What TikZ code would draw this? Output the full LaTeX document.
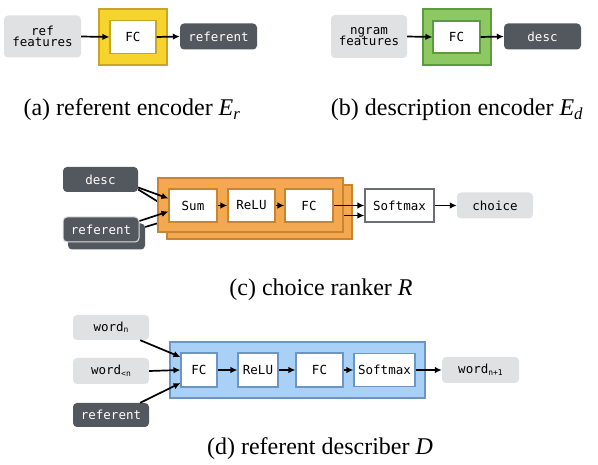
\documentclass[tikz,border=0pt]{standalone}
\usepackage{fontspec}
\setmainfont{Liberation Serif}
\setmonofont{DejaVu Sans Mono}
\usetikzlibrary{arrows.meta}

\definecolor{lightbox}{HTML}{E0E1E3}
\definecolor{darkbox}{HTML}{53575E}
\definecolor{yellowfill}{HTML}{F6D32D}
\definecolor{yellowline}{HTML}{C9A526}
\definecolor{greenfill}{HTML}{8DC862}
\definecolor{greenline}{HTML}{5C9A3E}
\definecolor{orangefill}{HTML}{F4A951}
\definecolor{orangeline}{HTML}{C98431}
\definecolor{bluefill}{HTML}{A9D1F7}
\definecolor{blueline}{HTML}{6C95C4}
\definecolor{greyline}{HTML}{6B6E73}

\newcommand{\lowsub}[1]{\raisebox{-1.5pt}{\fontsize{8}{8}\selectfont #1}}

\tikzset{
  boxfont/.style={font=\ttfamily\fontsize{12.5}{13}\selectfont},
  inbox/.style={boxfont, rounded corners=4pt, fill=lightbox, inner sep=0pt, align=center},
  outbox/.style={boxfont, rounded corners=4pt, fill=darkbox, text=white, inner sep=0pt},
  layer/.style={boxfont, draw, fill=white, line width=1.1pt, inner sep=0pt},
  frame/.style={draw, line width=1.3pt, inner sep=0pt},
  caption/.style={font=\fontsize{24}{26}\selectfont},
  flow/.style={-{Latex[length=7pt,width=6.5pt]}, line width=1.7pt},
}

\begin{document}
\begin{tikzpicture}[x=1pt, y=-1pt]
  \useasboundingbox (0,0) rectangle (598,465);

  % (a)
  \node[inbox, minimum width=77pt, minimum height=42pt] (reffeat) at (42.5,36.5) {ref\\[-2pt]features};
  \node[frame, draw=yellowline, fill=yellowfill, minimum width=68pt, minimum height=56pt] (yellow) at (133,37) {};
  \node[layer, draw=yellowline, minimum width=46pt, minimum height=33pt] (fcA) at (133,37) {FC};
  \node[outbox, minimum width=77pt, minimum height=26pt] (refA) at (218.5,36.5) {referent};
  \draw[flow] (reffeat.east) -- (fcA.west);
  \draw[flow] (fcA.east) -- (refA.west);
  \node[caption] (capA) at (132,110) {(a) referent encoder {\itshape E}\textsubscript{\itshape r}};

  % (b)
  \node[inbox, minimum width=76pt, minimum height=43pt] (ngram) at (369,36.5) {ngram\\[-2pt]features};
  \node[frame, draw=greenline, fill=greenfill, minimum width=68pt, minimum height=56pt] (green) at (457,37) {};
  \node[layer, draw=greenline, minimum width=47pt, minimum height=32pt] (fcB) at (456.5,37) {FC};
  \node[outbox, minimum width=77pt, minimum height=26pt] (descB) at (542.5,36.5) {desc};
  \draw[flow] (ngram.east) -- (fcB.west);
  \draw[flow] (fcB.east) -- (descB.west);
  \node[caption] (capB) at (457,110) {(b) description encoder {\itshape E}\textsubscript{\itshape d}};

  % (c)
  \node[outbox, minimum width=75pt, minimum height=25pt] (descC) at (100.5,179.5) {desc};
  \node[outbox, minimum width=77pt, minimum height=26pt] (refCback) at (106.5,236.5) {};
  \node[outbox, draw=lightbox, line width=1pt, minimum width=76pt, minimum height=25pt] (refC) at (101,229.5) {referent};
  \node[frame, draw=orangeline, fill=orangefill, minimum width=185pt, minimum height=54pt] (orangeback) at (259.5,212) {};
  \coordinate (sumbk) at (178,214);
  \coordinate (sumbklow) at (178,217);
  \coordinate (fcbk) at (344,215.5);
  \draw[line width=1.7pt] ([yshift=-10pt]descC.east) -- (sumbk);
  \draw[line width=1.7pt] ([yshift=9.5pt]refCback.east) -- (sumbklow);
  \node[frame, draw=orangeline, fill=orangefill, minimum width=185pt, minimum height=54pt] (orange) at (250.5,205) {};
  \node[layer, draw=orangeline, minimum width=48pt, minimum height=33pt] (sum) at (193,205.5) {Sum};
  \node[layer, draw=orangeline, minimum width=47pt, minimum height=33pt] (relu) at (251.5,205.5) {ReLU};
  \node[layer, draw=orangeline, minimum width=48pt, minimum height=33pt] (fcC) at (309,205.5) {FC};
  \node[layer, draw=greyline, minimum width=69pt, minimum height=33pt] (softmaxC) at (399.5,205.5) {Softmax};
  \node[inbox, minimum width=76pt, minimum height=26pt] (choice) at (495,205.5) {choice};
  \draw[flow] ([yshift=-8pt]descC.east) -- ([yshift=7pt]sum.west);
  \draw[flow] ([yshift=8.5pt]refC.east) -- ([yshift=-6pt]sum.west);
  \draw[flow] (sum) -- (relu);
  \draw[flow] (relu) -- (fcC);
  \draw[flow] (fcC) -- (softmaxC);
  \draw[flow] (fcbk) -- ([yshift=-10pt]softmaxC.west);
  \draw[flow] (softmaxC) -- (choice);
  \node[caption] (capC) at (321,290) {(c) choice ranker {\itshape R}};

  % (d)
  \node[inbox, minimum width=76pt, minimum height=25pt] (wordn) at (111,327.5) {word\lowsub{n}};
  \node[inbox, minimum width=76pt, minimum height=26pt] (wordlt) at (111,371) {word\lowsub{<n}};
  \node[outbox, minimum width=76pt, minimum height=24pt] (refD) at (111,415) {referent};
  \node[frame, draw=blueline, fill=bluefill, minimum width=255pt, minimum height=56pt] (blue) at (297.5,370) {};
  \node[layer, draw=blueline, minimum width=36pt, minimum height=34pt] (fcone) at (199,370) {FC};
  \node[layer, draw=blueline, minimum width=40pt, minimum height=34pt] (reluD) at (258,370) {ReLU};
  \node[layer, draw=blueline, minimum width=47pt, minimum height=34pt] (fctwo) at (319.5,370) {FC};
  \node[layer, draw=blueline, minimum width=61pt, minimum height=33pt] (softmaxD) at (384.5,370) {Softmax};
  \node[inbox, minimum width=77pt, minimum height=26pt] (wordnext) at (480.5,370) {word\lowsub{n+1}};
  \draw[flow] ([xshift=-9pt]wordn.south east) -- ([yshift=13pt]fcone.west);
  \draw[flow] (wordlt.east) -- (fcone.west);
  \draw[flow] ([xshift=-9pt]refD.north east) -- ([yshift=-13pt]fcone.west);
  \draw[flow] (fcone) -- (reluD);
  \draw[flow] (reluD) -- (fctwo);
  \draw[flow] (fctwo) -- (softmaxD);
  \draw[flow] (softmaxD) -- (wordnext);
  \node[caption] (capD) at (320,449) {(d) referent describer {\itshape D}};
\end{tikzpicture}
\end{document}
